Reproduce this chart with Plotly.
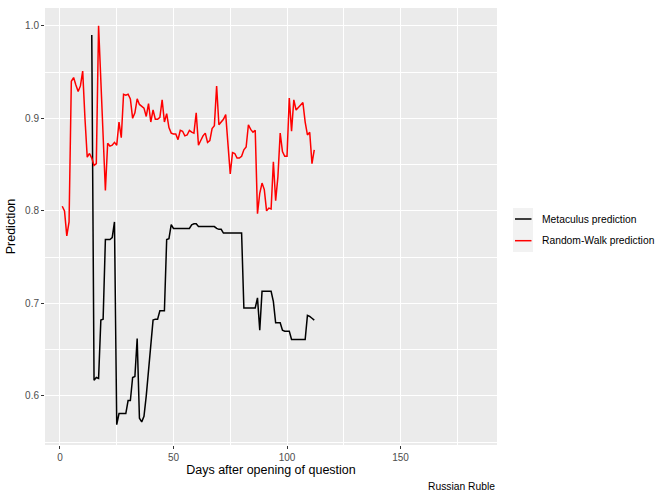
import plotly.graph_objects as go

# Random-walk prediction (red)
rw_days = list(range(1, 113))
rw_vals = [
    0.805, 0.800, 0.773, 0.788, 0.940, 0.944, 0.936, 0.929, 0.935, 0.951,
    0.900, 0.858, 0.862, 0.857, 0.849, 0.851, 1.000, 0.940, 0.880, 0.822,
    0.873, 0.870, 0.871, 0.874, 0.871, 0.896, 0.879, 0.926, 0.925, 0.926,
    0.921, 0.900, 0.906, 0.921, 0.915, 0.913, 0.911, 0.902, 0.916, 0.896,
    0.909, 0.899, 0.899, 0.901, 0.920, 0.896, 0.905, 0.890, 0.884, 0.883,
    0.883, 0.877, 0.887, 0.886, 0.881, 0.882, 0.887, 0.885, 0.884, 0.906,
    0.871, 0.876, 0.881, 0.884, 0.874, 0.876, 0.889, 0.892, 0.935, 0.893,
    0.896, 0.899, 0.904, 0.869, 0.840, 0.863, 0.862, 0.857, 0.857, 0.859,
    0.866, 0.869, 0.893, 0.888, 0.885, 0.887, 0.797, 0.819, 0.830, 0.823,
    0.800, 0.803, 0.802, 0.853, 0.811, 0.837, 0.884, 0.864, 0.859, 0.859,
    0.922, 0.886, 0.920, 0.909, 0.912, 0.915, 0.917, 0.896, 0.882, 0.885,
    0.851, 0.866,
]

# Metaculus prediction (black)
mc_days = list(range(14, 113))
mc_vals = [
    0.990, 0.617, 0.620, 0.619, 0.682, 0.683, 0.769, 0.769, 0.769, 0.771,
    0.788, 0.569, 0.581, 0.581, 0.581, 0.581, 0.595, 0.595, 0.620, 0.621,
    0.662, 0.576, 0.572, 0.578, 0.600, 0.628, 0.655, 0.682, 0.683, 0.683,
    0.692, 0.692, 0.692, 0.769, 0.770, 0.785, 0.781, 0.781, 0.781, 0.781,
    0.781, 0.781, 0.781, 0.781, 0.785, 0.786, 0.786, 0.783, 0.783, 0.783,
    0.783, 0.783, 0.783, 0.783, 0.783, 0.781, 0.780, 0.780, 0.776, 0.776,
    0.776, 0.776, 0.776, 0.776, 0.776, 0.776, 0.776, 0.695, 0.695, 0.695,
    0.695, 0.695, 0.695, 0.706, 0.671, 0.713, 0.713, 0.713, 0.713, 0.713,
    0.702, 0.679, 0.679, 0.679, 0.671, 0.670, 0.670, 0.670, 0.661, 0.661,
    0.661, 0.661, 0.661, 0.661, 0.661, 0.687, 0.686, 0.684, 0.682,
]

series_names = ["Metaculus prediction", "Random-Walk prediction"]
series_colors = ["black", "red"]
x_title = "Days after opening of question"
y_title = "Prediction"
caption = "Russian Ruble"

FONT = "Liberation Sans, Arial, sans-serif"

fig = go.Figure()
fig.add_trace(go.Scatter(x=mc_days, y=mc_vals, mode="lines", name=series_names[0],
                         line=dict(color=series_colors[0], width=1.5), showlegend=False))
fig.add_trace(go.Scatter(x=rw_days, y=rw_vals, mode="lines", name=series_names[1],
                         line=dict(color=series_colors[1], width=1.5), showlegend=False))

W, H = 664, 498
ml, mr, mt, mb = 45, 167, 8, 53
pw, ph = W - ml - mr, H - mt - mb

def px_x(p):
    return (p - ml) / pw

def px_y(p):
    return (H - mb - p) / ph

shapes = [
    dict(type="rect", xref="paper", yref="paper", x0=px_x(513), x1=px_x(533),
         y0=px_y(252), y1=px_y(208), fillcolor="#F2F2F2", line=dict(width=0), layer="below"),
]
ann = []
for i, (nm, col) in enumerate(zip(series_names, series_colors)):
    yc = 219 + i * 21.7
    shapes.append(dict(type="line", xref="paper", yref="paper", x0=px_x(515), x1=px_x(531.5),
                       y0=px_y(yc), y1=px_y(yc), line=dict(color=col, width=1.5)))
    ann.append(dict(text=nm, xref="paper", yref="paper", x=px_x(540), y=px_y(yc),
                    xanchor="left", yanchor="middle", showarrow=False,
                    font=dict(family=FONT, size=10.3, color="black")))
ann.append(dict(text=caption, xref="paper", yref="paper", x=1, y=px_y(486),
                xanchor="right", yanchor="middle", showarrow=False,
                font=dict(family=FONT, size=10.3, color="black")))

fig.update_layout(
    width=W, height=H,
    margin=dict(l=ml, r=mr, t=mt, b=mb, autoexpand=False),
    paper_bgcolor="white", plot_bgcolor="#EBEBEB",
    font=dict(family=FONT, color="black"),
    shapes=shapes, annotations=ann, showlegend=False,
)
fig.update_xaxes(
    range=[-6.6, 192.5], tick0=0, dtick=50, showgrid=True, gridcolor="white", gridwidth=1.1,
    zeroline=False, ticks="outside", ticklen=3, tickcolor="#333333", tickwidth=1,
    tickfont=dict(family=FONT, size=10, color="#4D4D4D"),
    minor=dict(tick0=0, dtick=25, showgrid=True, gridcolor="white", gridwidth=0.5),
    title=dict(text=x_title, font=dict(family=FONT, size=12.5, color="black"), standoff=3),
    automargin=False, showline=False,
)
fig.update_yaxes(
    range=[0.547, 1.0192], tick0=0, dtick=0.1, tickformat=".1f", showgrid=True,
    gridcolor="white", gridwidth=1.1, zeroline=False, ticks="outside", ticklen=3,
    tickcolor="#333333", tickwidth=1, tickfont=dict(family=FONT, size=10, color="#4D4D4D"),
    minor=dict(tick0=0, dtick=0.05, showgrid=True, gridcolor="white", gridwidth=0.5),
    title=dict(text=y_title, font=dict(family=FONT, size=12.5, color="black"), standoff=6),
    automargin=False, showline=False,
)

fig.write_html("out.html", config={"displayModeBar": False},
               post_script="document.body.style.margin='0px';")
